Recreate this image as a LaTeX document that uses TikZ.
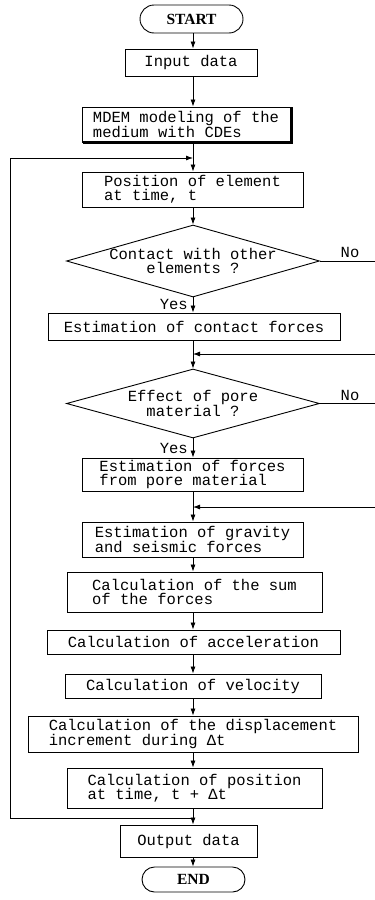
\documentclass[tikz,border=0pt]{standalone}
\usepackage{fontspec}
\usetikzlibrary{shapes.geometric, shapes.misc, arrows.meta}
\newfontfamily\flowmono{Liberation Mono}
\newfontfamily\flowserif{Liberation Serif}
\newcommand{\flowtxt}{\flowmono\fontsize{15.5}{14.5}\selectfont}
\newcommand{\flowend}{\flowserif\bfseries\fontsize{15.5}{15}\selectfont}
\begin{document}
\begin{tikzpicture}[
    x=1pt, y=-1pt,
    blk/.style={draw, line width=0.9pt, font=\flowtxt, align=left, inner sep=0pt},
    dec/.style={diamond, draw, line width=0.9pt, font=\flowtxt, align=center, shape aspect=3.5, inner xsep=-15pt, inner ysep=0pt},
    term/.style={rounded rectangle, draw, line width=0.9pt, font=\flowend, inner sep=0pt, minimum width=103pt},
    lbl/.style={font=\flowtxt, inner sep=0pt},
    arr/.style={-{Latex[length=7pt,width=5pt]}, line width=0.8pt},
    ln/.style={line width=0.8pt},
]
\useasboundingbox (0,0) rectangle (375,900);
% Main column
\node[term, minimum height=28pt] (start) at (191.5, 19) {START};
\node[blk, minimum width=132pt, minimum height=27pt] (inp) at (191, 62.5) {Input data};
\node[blk, minimum width=208pt, minimum height=35pt] (mdem) at (186, 124.5) {MDEM modeling of the\\medium with CDEs};
\node[blk, minimum width=221pt, minimum height=35pt] (pos) at (192.5, 189.5) {Position of element\\at time, t};
\node[dec, minimum width=253pt, minimum height=72pt] (contact) at (193, 261) {Contact with other\\elements ?};
\node[blk, minimum width=292pt, minimum height=27pt] (cforce) at (194, 326.5) {Estimation of contact forces};
\node[dec, minimum width=253pt, minimum height=69pt] (pore) at (193, 403.5) {Effect of pore\\material ?};
\node[blk, minimum width=221pt, minimum height=33pt] (pforce) at (192.5, 474.5) {Estimation of forces\\from pore material};
\node[blk, minimum width=221pt, minimum height=35pt] (grav) at (192.5, 539.5) {Estimation of gravity\\and seismic forces};
\node[blk, minimum width=255pt, minimum height=40pt] (sum) at (194.5, 592) {Calculation of the sum\\of the forces};
\node[blk, minimum width=293pt, minimum height=24pt] (acc) at (193.5, 642) {Calculation of acceleration};
\node[blk, minimum width=256pt, minimum height=24pt] (vel) at (193, 686) {Calculation of velocity};
\node[blk, minimum width=330pt, minimum height=36pt] (disp) at (193, 734) {Calculation of the displacement\\increment during Δt};
\node[blk, minimum width=255pt, minimum height=40pt] (newpos) at (194.5, 788) {Calculation of position\\at time, t + Δt};
\node[blk, minimum width=137pt, minimum height=32pt] (out) at (188.5, 841) {Output data};
\node[term, minimum height=25pt] (fin) at (193.5, 879.5) {END};
% Branch labels
\node[lbl, anchor=east] (yes1) at (188, 304) {Yes};
\node[lbl, anchor=east] (yes2) at (188, 448) {Yes};
\node[lbl] (no1) at (350, 252) {No};
\node[lbl] (no2) at (350, 395) {No};
% Helper points
\coordinate (trunk) at (193, 0);
\coordinate (leftx) at (10, 0);
\coordinate (edge) at (375, 0);
\coordinate (looptop) at (193, 158);
\coordinate (loopbot) at (193, 818);
\coordinate (join1) at (193, 354);
\coordinate (join2) at (193, 507);
% Shadow of the modeling box
\draw[line width=2.2pt] ([xshift=1pt]mdem.south west) -- ([xshift=1pt]mdem.south east) -- ([xshift=1pt]mdem.north east);
% Flow down the trunk
\draw[arr] (start.south -| trunk) -- (inp.north -| trunk);
\draw[arr] (inp.south -| trunk) -- (mdem.north -| trunk);
\draw[arr] (mdem.south -| trunk) -- (pos.north -| trunk);
\draw[arr] (pos.south -| trunk) -- (contact.north -| trunk);
\draw[arr] (contact.south -| trunk) -- (cforce.north -| trunk);
\draw[arr] (cforce.south -| trunk) -- (pore.north -| trunk);
\draw[arr] (pore.south -| trunk) -- (pforce.north -| trunk);
\draw[arr] (pforce.south -| trunk) -- (grav.north -| trunk);
\draw[arr] (grav.south -| trunk) -- (sum.north -| trunk);
\draw[arr] (sum.south -| trunk) -- (acc.north -| trunk);
\draw[arr] (acc.south -| trunk) -- (vel.north -| trunk);
\draw[arr] (vel.south -| trunk) -- (disp.north -| trunk);
\draw[arr] (disp.south -| trunk) -- (newpos.north -| trunk);
\draw[arr] (newpos.south -| trunk) -- (out.north -| trunk);
\draw[arr] (out.south -| trunk) -- (fin.north -| trunk);
% No branches
\draw[ln] (contact.east) -- (contact.east -| edge);
\draw[ln] (pore.east) -- (pore.east -| edge);
\draw[arr] (join1 -| edge) -- (join1);
\draw[arr] (join2 -| edge) -- (join2);
% Time step loop
\draw[arr] (loopbot) -- (loopbot -| leftx) -- (looptop -| leftx) -- (looptop);
\end{tikzpicture}
\end{document}
